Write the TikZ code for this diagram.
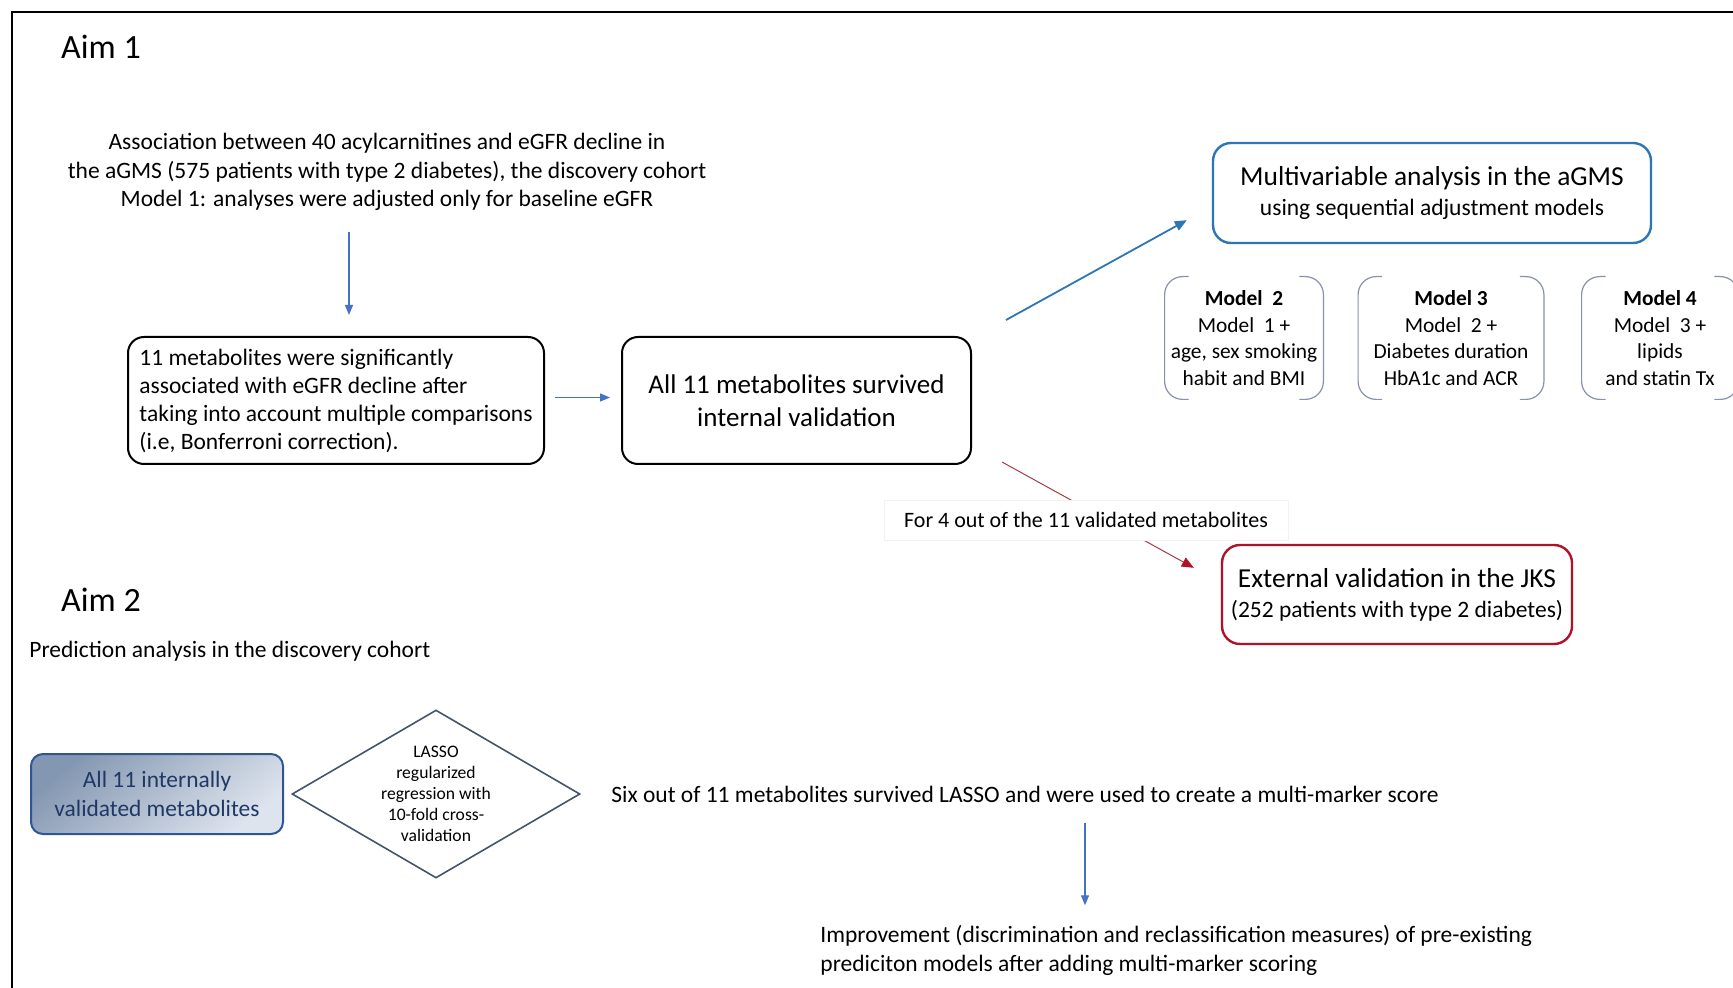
\documentclass[tikz,border=0pt]{standalone}
\usepackage{fontspec}
\setmainfont{Carlito}
\usetikzlibrary{shapes.geometric, arrows.meta, positioning, calc}
\definecolor{officeblue}{RGB}{68,114,196}
\definecolor{darkblue}{RGB}{46,117,182}
\definecolor{darkred}{RGB}{176,18,40}
\definecolor{arrowred}{RGB}{165,60,70}
\definecolor{bracketgray}{RGB}{135,145,172}
\definecolor{shadedark}{RGB}{132,151,178}
\definecolor{shadelight}{RGB}{222,228,238}
\definecolor{navyborder}{RGB}{47,85,151}
\definecolor{navytext}{RGB}{31,56,100}
\definecolor{slategray}{RGB}{68,84,106}

\begin{document}
\begin{tikzpicture}[
    x=0.5pt, y=-0.5pt,
    txt/.style={inner sep=0pt, font=\fontsize{11.75}{14.2}\selectfont},
    aim/.style={inner sep=0pt, font=\fontsize{17}{20}\selectfont},
    box/.style={rectangle, rounded corners=8pt, draw=black, line width=1pt, minimum height=63.5pt, font=\fontsize{11.75}{12.7}\selectfont},
    roundbox/.style={rectangle, rounded corners=9pt, line width=1.2pt, align=center, font=\fontsize{13.7}{15}\selectfont},
    modelbox/.style={minimum height=61pt, align=center, inner sep=0pt, font=\fontsize{10.7}{13.2}\selectfont},
    bracket/.style={draw=bracketgray, line width=0.6pt, rounded corners=9pt},
    gradbox/.style={rectangle, rounded corners=6pt, draw=navyborder, line width=1pt, top color=shadedark, bottom color=shadelight, shading angle=40, minimum width=126pt, minimum height=40pt, align=center, text=navytext, font=\fontsize{11.7}{14.5}\selectfont},
    lasso/.style={diamond, draw=slategray, line width=0.8pt, aspect=1.71, inner sep=0pt, minimum width=144pt, minimum height=84pt, align=center, font=\fontsize{8.8}{10.5}\selectfont},
    arrow/.style={-{Triangle[length=5pt, width=4pt]}, officeblue, line width=0.6pt},
    bluearrow/.style={-{Triangle[length=6pt, width=5pt]}, darkblue, line width=0.9pt},
    redarrow/.style={-{Triangle[length=6pt, width=5pt, color=darkred]}, arrowred, line width=0.5pt}
]

\useasboundingbox (0,0) rectangle (1733,988);

% frame
\draw[line width=1pt] (12,988) -- (12,12) -- (1733,12);

% Aim 1
\node[aim] (aim1) at (101,47) {Aim 1};

\node[txt, align=center] (assoc) at (387,172) {Association between 40 acylcarnitines and eGFR decline in\\the aGMS (575 patients with type 2 diabetes), the discovery cohort\\Model 1: analyses were adjusted only for baseline eGFR};

\node[box, minimum width=208pt, align=left, font=\fontsize{11.75}{14}\selectfont] (sig) at (336,400.5) {11 metabolites were significantly\\associated with eGFR decline after\\taking into account multiple comparisons\\(i.e, Bonferroni correction).};
\coordinate (d1) at (349,232);
\draw[arrow] (d1) -- ([shift={(6.5pt,10.5pt)}]sig.north);

\node[box, minimum width=174.5pt, align=center, font=\fontsize{13.5}{16.5}\selectfont] (intval) at (796.5,400.5) {All 11 metabolites survived\\internal validation};
\draw[arrow, shorten <=5pt, shorten >=5.5pt] ([yshift=1.5pt]sig.east) -- ([yshift=1.5pt]intval.west);

% Multivariable analysis
\node[roundbox, draw=darkblue, minimum width=219pt, minimum height=50pt] (multi) at (1432,193) {Multivariable analysis in the aGMS\\{\fontsize{11.75}{15}\selectfont using sequential adjustment models}};
\draw[bluearrow] ([shift={(17pt,8pt)}]intval.north east) -- ([shift={(-12.5pt,12pt)}]multi.south west);

\node[modelbox, minimum width=79pt] (m2) at (1244,338) {\textbf{Model\ \ 2}\\Model\ \ 1 +\\age, sex smoking\\habit and BMI};
\node[modelbox, minimum width=92.5pt] (m3) at (1451,338) {\textbf{Model 3}\\Model\ \ 2 +\\Diabetes duration\\HbA1c and ACR};
\node[modelbox, minimum width=78pt] (m4) at (1660,338) {\textbf{Model 4}\\Model\ \ 3 +\\lipids\\and statin Tx};
\foreach \m in {m2,m3,m4} {
  \draw[bracket] ([xshift=12pt]\m.north west) -- (\m.north west) -- (\m.south west) -- ([xshift=12pt]\m.south west);
  \draw[bracket] ([xshift=-12pt]\m.north east) -- (\m.north east) -- (\m.south east) -- ([xshift=-12pt]\m.south east);
}

% External validation
\node[roundbox, draw=darkred, minimum width=175pt, minimum height=49.5pt] (ext) at (1397,594.5) {External validation in the JKS\\{\fontsize{11.75}{15}\selectfont (252 patients with type 2 diabetes)}};
\draw[redarrow] ([shift={(15pt,1.5pt)}]intval.south east) -- ([shift={(-13.5pt,-12pt)}]ext.north west);
\node[txt, font=\fontsize{11}{13}\selectfont, draw=gray!10, fill=white, inner xsep=10pt, minimum height=20pt] (forlbl) at (1086,520) {For 4 out of the 11 validated metabolites};

% Aim 2
\node[aim] (aim2) at (101,600) {Aim 2};
\node[txt, anchor=west] (pred) at (29,651) {Prediction analysis in the discovery cohort};

\node[gradbox] (allint) at (157,794) {All 11 internally\\validated metabolites};
\node[lasso] (lassonode) at (436,794) {LASSO\\regularized\\regression with\\10-fold cross-\\validation};

\node[txt, anchor=west] (six) at (611,794) {Six out of 11 metabolites survived LASSO and were used to create a multi-marker score};

\node[txt, anchor=west, align=left] (impr) at (820,950.5) {Improvement (discrimination and reclassification measures) of pre-existing\\prediciton models after adding multi-marker scoring};
\coordinate (d2) at (1085,823);
\draw[arrow] (d2) -- ($(d2 |- impr.north)+(0,10pt)$);

\end{tikzpicture}
\end{document}
